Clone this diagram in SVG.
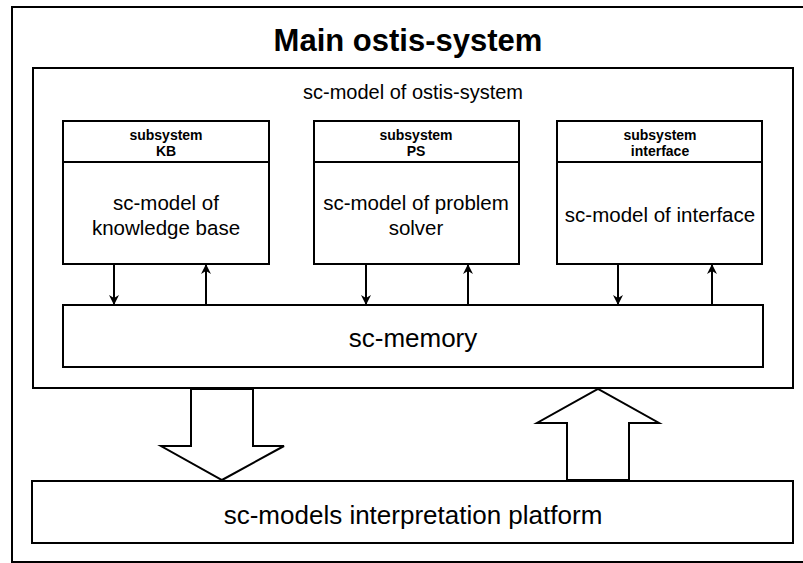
<svg xmlns="http://www.w3.org/2000/svg" width="803" height="563" viewBox="0 0 803 563">
<style>
.box{fill:#fff;stroke:#000;stroke-width:2}
.t{font-family:"Liberation Sans",Arial,sans-serif;fill:#000;text-anchor:middle}
.title{font-size:31px;font-weight:bold}
.hdr{font-size:14px;font-weight:bold}
.body{font-size:20.5px}
.big{font-size:26px}
.mid{font-size:20px}
.conn{stroke:#000;stroke-width:2;fill:none}
.block{fill:#fff;stroke:#000;stroke-width:2;stroke-linejoin:miter}
</style>
<defs>
<marker id="ah" viewBox="0 0 10 10" refX="9" refY="5" markerWidth="10" markerHeight="10" markerUnits="userSpaceOnUse" orient="auto">
<path d="M0,0 L10,5 L0,10 L3,5 Z" fill="#000"/>
</marker>
</defs>
<rect width="803" height="563" fill="#fff"/>
<g id="main">
<rect class="box" x="12" y="7" width="800" height="555"/>
<text class="t title" x="408" y="51">Main ostis-system</text>
</g>
<g id="sc-model">
<rect class="box" x="33" y="68" width="760" height="320"/>
<text class="t mid" x="413" y="99">sc-model of ostis-system</text>
</g>
<g id="kb">
<rect class="box" x="63" y="121" width="206" height="143"/>
<line class="box" x1="63" y1="162" x2="269" y2="162"/>
<text class="t hdr" x="166" y="140">subsystem</text>
<text class="t hdr" x="166" y="156">KB</text>
<text class="t body" x="166" y="210">sc-model of</text>
<text class="t body" x="166" y="235">knowledge base</text>
</g>
<g id="ps">
<rect class="box" x="314" y="121" width="205" height="143"/>
<line class="box" x1="314" y1="162" x2="519" y2="162"/>
<text class="t hdr" x="416" y="140">subsystem</text>
<text class="t hdr" x="416" y="156">PS</text>
<text class="t body" x="416" y="210">sc-model of problem</text>
<text class="t body" x="416" y="235">solver</text>
</g>
<g id="interface">
<rect class="box" x="557" y="121" width="205" height="143"/>
<line class="box" x1="557" y1="162" x2="762" y2="162"/>
<text class="t hdr" x="660" y="140">subsystem</text>
<text class="t hdr" x="660" y="156">interface</text>
<text class="t body" x="660" y="222">sc-model of interface</text>
</g>
<g id="sc-memory">
<rect class="box" x="63" y="305" width="700" height="62"/>
<text class="t big" x="413" y="347">sc-memory</text>
</g>
<g id="platform">
<rect class="box" x="32" y="481" width="761" height="62"/>
<text class="t big" x="413" y="524">sc-models interpretation platform</text>
</g>
<g id="connectors">
<line class="conn" x1="114" y1="264" x2="114" y2="304" marker-end="url(#ah)"/>
<line class="conn" x1="206" y1="305" x2="206" y2="265" marker-end="url(#ah)"/>
<line class="conn" x1="366" y1="264" x2="366" y2="304" marker-end="url(#ah)"/>
<line class="conn" x1="468" y1="305" x2="468" y2="265" marker-end="url(#ah)"/>
<line class="conn" x1="618" y1="264" x2="618" y2="304" marker-end="url(#ah)"/>
<line class="conn" x1="712" y1="305" x2="712" y2="265" marker-end="url(#ah)"/>
<polygon class="block" points="191,389 253,389 253,446 284,446 222,480 161,446 191,446"/>
<polygon class="block" points="567,480 629,480 629,423 659,423 598,389 537,423 567,423"/>
</g>
</svg>
